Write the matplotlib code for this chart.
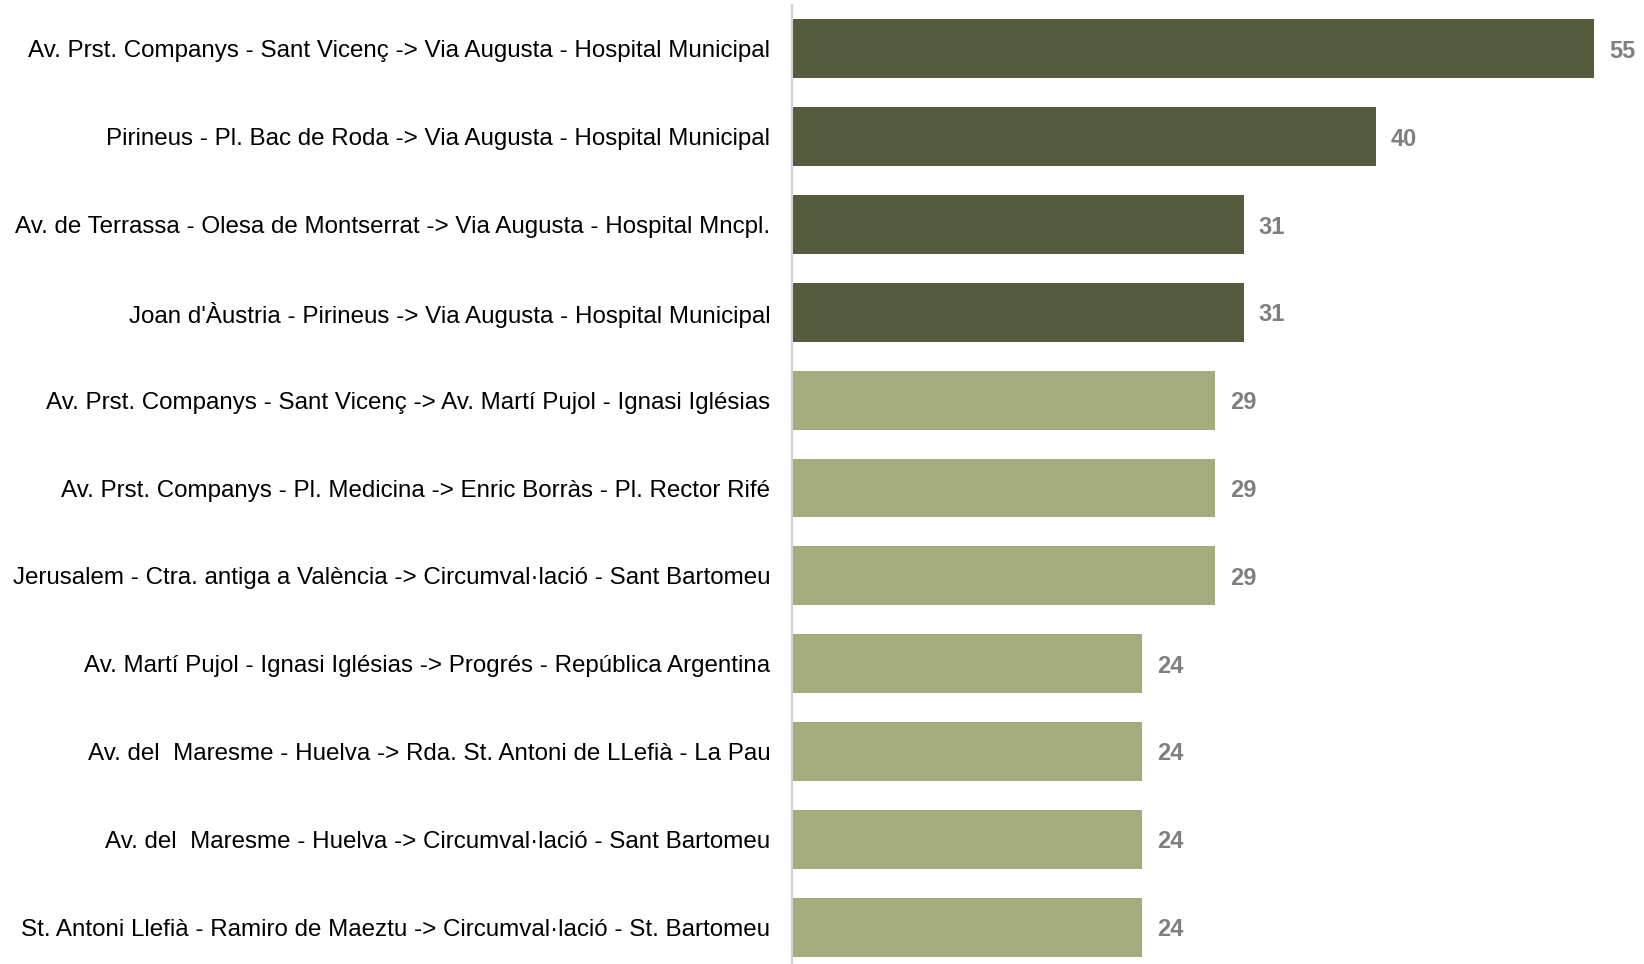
import matplotlib
matplotlib.use("Agg")
import matplotlib.pyplot as plt

# --- data (top to bottom) ---
routes = [
    "Av. Prst. Companys - Sant Vicenç -> Via Augusta - Hospital Municipal",
    "Pirineus - Pl. Bac de Roda -> Via Augusta - Hospital Municipal",
    "Av. de Terrassa - Olesa de Montserrat -> Via Augusta - Hospital Mncpl.",
    "Joan d'Àustria - Pirineus -> Via Augusta - Hospital Municipal",
    "Av. Prst. Companys - Sant Vicenç -> Av. Martí Pujol - Ignasi Iglésias",
    "Av. Prst. Companys - Pl. Medicina -> Enric Borràs - Pl. Rector Rifé",
    "Jerusalem - Ctra. antiga a València -> Circumval·lació - Sant Bartomeu",
    "Av. Martí Pujol - Ignasi Iglésias -> Progrés - República Argentina",
    "Av. del  Maresme - Huelva -> Rda. St. Antoni de LLefià - La Pau",
    "Av. del  Maresme - Huelva -> Circumval·lació - Sant Bartomeu",
    "St. Antoni Llefià - Ramiro de Maeztu -> Circumval·lació - St. Bartomeu",
]
counts = [55, 40, 31, 31, 29, 29, 29, 24, 24, 24, 24]
highlight = [True, True, True, True, False, False, False, False, False, False, False]

DARK = "#555B3D"
LIGHT = "#A4AC7E"

plt.rcParams['font.family'] = ['Liberation Sans', 'DejaVu Sans']

fig = plt.figure(figsize=(16.44, 9.64), dpi=100)
ax = fig.add_axes([792 / 1644, 0.0, 1 - 792 / 1644, 1 - 5 / 964])

ypos = list(range(len(routes)))
colors = [DARK if h else LIGHT for h in highlight]
bars = ax.barh(ypos, counts, height=0.67, color=colors)

for b, v in zip(bars, counts):
    ax.text(b.get_width() + 1.0, b.get_y() + b.get_height() / 2, str(v),
            va='center_baseline', ha='left', fontsize=17, fontweight='bold',
            color='#7F7F7F')

ax.set_yticks(ypos)
ax.set_yticklabels(routes, fontsize=17.4)
ax.tick_params(axis='y', length=0, pad=15.5)
ax.set_ylim(10.42, -0.5)
ax.set_xlim(0, 58.4)
ax.set_xticks([])

for s in ['top', 'right', 'bottom']:
    ax.spines[s].set_visible(False)
ax.spines['left'].set_color('#D0D0D0')
ax.spines['left'].set_linewidth(1.5)

fig.savefig("out.png", dpi=100)
